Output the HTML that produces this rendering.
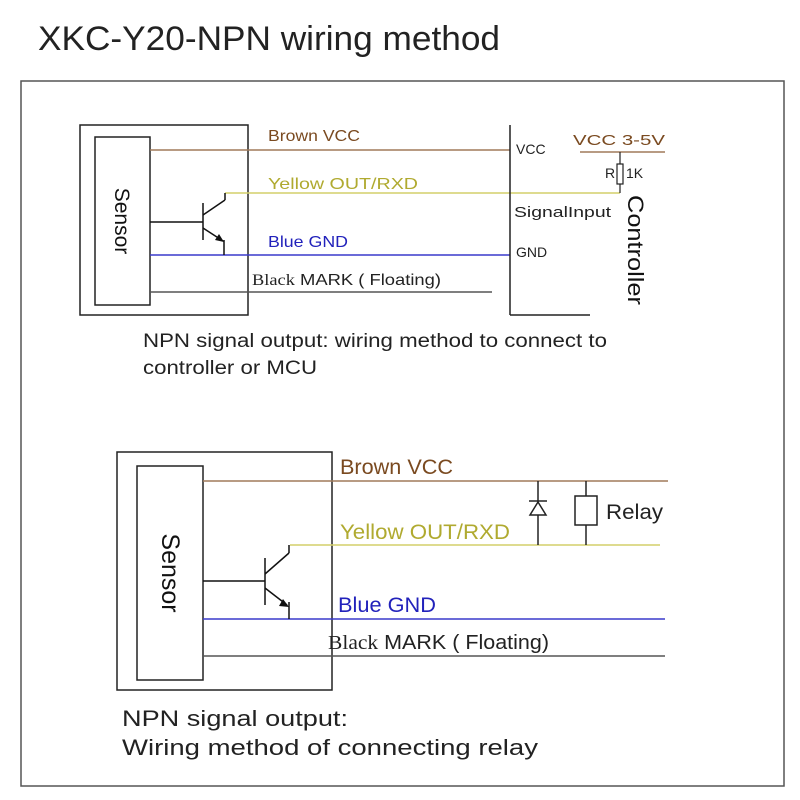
<!DOCTYPE html>
<html><head><style>
html,body{margin:0;padding:0;background:#fff;}
svg{display:block;font-family:"Liberation Sans",sans-serif;}
</style></head><body>
<svg width="800" height="800" viewBox="0 0 800 800" xmlns="http://www.w3.org/2000/svg">
<text x="38" y="50" font-size="34" fill="#222" textLength="462" lengthAdjust="spacingAndGlyphs">XKC-Y20-NPN wiring method</text>
<rect x="21" y="81" width="763" height="705" fill="none" stroke="#555" stroke-width="1.5"/>

<!-- Top diagram -->
<rect x="80" y="125" width="168" height="190" fill="none" stroke="#222" stroke-width="1.5"/>
<rect x="95" y="137" width="55" height="168" fill="none" stroke="#222" stroke-width="1.5"/>
<text transform="translate(115,221) rotate(90)" font-size="21" text-anchor="middle" fill="#111">Sensor</text>
<line x1="150" y1="150" x2="510" y2="150" stroke="#a07a5a" stroke-width="1.5"/>
<line x1="225" y1="193" x2="620" y2="193" stroke="#d4cf6a" stroke-width="1.5"/>
<line x1="150" y1="255" x2="510" y2="255" stroke="#3a3acc" stroke-width="1.5"/>
<line x1="150" y1="292" x2="492" y2="292" stroke="#555" stroke-width="1.5"/>
<g stroke="#111" stroke-width="1.5" fill="none">
<line x1="150" y1="222" x2="203" y2="222"/>
<line x1="203" y1="203" x2="203" y2="240"/>
<line x1="203" y1="215" x2="225" y2="200"/><line x1="225" y1="200" x2="225" y2="193"/>
<line x1="203" y1="228" x2="223" y2="241"/><line x1="224" y1="240" x2="224" y2="255"/>
</g>
<polygon points="224,242 215,240 219,234" fill="#111"/>
<text x="268" y="141" font-size="16" fill="#7a4a20" textLength="92" lengthAdjust="spacingAndGlyphs">Brown VCC</text>
<text x="268" y="189" font-size="16" fill="#b0aa30" textLength="150" lengthAdjust="spacingAndGlyphs">Yellow OUT/RXD</text>
<text x="268" y="247" font-size="16" fill="#2222bb" textLength="80" lengthAdjust="spacingAndGlyphs">Blue GND</text>
<text x="252" y="285" font-size="16" fill="#222" textLength="189" lengthAdjust="spacingAndGlyphs"><tspan font-family="Liberation Serif">Black</tspan> MARK ( Floating)</text>
<line x1="510" y1="125" x2="510" y2="315" stroke="#222" stroke-width="1.5"/>
<line x1="510" y1="315" x2="590" y2="315" stroke="#222" stroke-width="1.5"/>
<text x="516" y="154" font-size="14" fill="#222">VCC</text>
<text x="514" y="217" font-size="15" fill="#222" textLength="97" lengthAdjust="spacingAndGlyphs">SignalInput</text>
<text x="516" y="257" font-size="14" fill="#222">GND</text>
<text x="573" y="145" font-size="15" fill="#7a4a20" textLength="92" lengthAdjust="spacingAndGlyphs">VCC 3-5V</text>
<line x1="580" y1="152" x2="665" y2="152" stroke="#a07a5a" stroke-width="1.5"/>
<line x1="620" y1="152" x2="620" y2="193" stroke="#222" stroke-width="1.2"/>
<rect x="617" y="164" width="6" height="20" fill="#fff" stroke="#222" stroke-width="1.2"/>
<text x="605" y="178" font-size="14" fill="#222">R</text>
<text x="626" y="178" font-size="14" fill="#222">1K</text>
<text transform="translate(628,250) rotate(90)" font-size="22" text-anchor="middle" fill="#111" textLength="110" lengthAdjust="spacingAndGlyphs">Controller</text>
<text x="143" y="347" font-size="19" fill="#222" textLength="464" lengthAdjust="spacingAndGlyphs">NPN signal output: wiring method to connect to</text>
<text x="143" y="374" font-size="19" fill="#222" textLength="174" lengthAdjust="spacingAndGlyphs">controller or MCU</text>

<!-- Bottom diagram -->
<rect x="117" y="452" width="215" height="238" fill="none" stroke="#222" stroke-width="1.5"/>
<rect x="137" y="466" width="66" height="214" fill="none" stroke="#222" stroke-width="1.5"/>
<text transform="translate(162,573) rotate(90)" font-size="25" text-anchor="middle" fill="#111">Sensor</text>
<line x1="203" y1="481" x2="668" y2="481" stroke="#a07a5a" stroke-width="1.5"/>
<line x1="290" y1="545" x2="660" y2="545" stroke="#d4cf6a" stroke-width="1.5"/>
<line x1="203" y1="619" x2="665" y2="619" stroke="#3a3acc" stroke-width="1.5"/>
<line x1="203" y1="656" x2="665" y2="656" stroke="#555" stroke-width="1.5"/>
<g stroke="#111" stroke-width="1.5" fill="none">
<line x1="203" y1="581" x2="265" y2="581"/>
<line x1="265" y1="558" x2="265" y2="605"/>
<line x1="265" y1="574" x2="289" y2="553"/><line x1="289" y1="553" x2="289" y2="545"/>
<line x1="265" y1="588" x2="287" y2="605"/><line x1="289" y1="602" x2="289" y2="619"/>
</g>
<polygon points="289,607 279,606 283,599" fill="#111"/>
<text x="340" y="474" font-size="21" fill="#7a4a20" textLength="113" lengthAdjust="spacingAndGlyphs">Brown VCC</text>
<text x="340" y="539" font-size="21" fill="#b0aa30" textLength="170" lengthAdjust="spacingAndGlyphs">Yellow OUT/RXD</text>
<text x="338" y="612" font-size="21" fill="#2222bb" textLength="98" lengthAdjust="spacingAndGlyphs">Blue GND</text>
<text x="328" y="649" font-size="20" fill="#222" textLength="221" lengthAdjust="spacingAndGlyphs"><tspan font-family="Liberation Serif">Black</tspan> MARK ( Floating)</text>
<g stroke="#222" stroke-width="1.5" fill="none">
<line x1="538" y1="481" x2="538" y2="545"/>
<line x1="529" y1="501" x2="547" y2="501"/>
<polygon points="538,502 530,515 546,515" fill="#fff"/>
<line x1="586" y1="481" x2="586" y2="545"/>
<rect x="575" y="496" width="22" height="29" fill="#fff"/>
</g>
<text x="606" y="519" font-size="21" fill="#222" textLength="57" lengthAdjust="spacingAndGlyphs">Relay</text>
<text x="122" y="726" font-size="22" fill="#222" textLength="226" lengthAdjust="spacingAndGlyphs">NPN signal output:</text>
<text x="122" y="755" font-size="22" fill="#222" textLength="416" lengthAdjust="spacingAndGlyphs">Wiring method of connecting relay</text>
</svg>
</body></html>
